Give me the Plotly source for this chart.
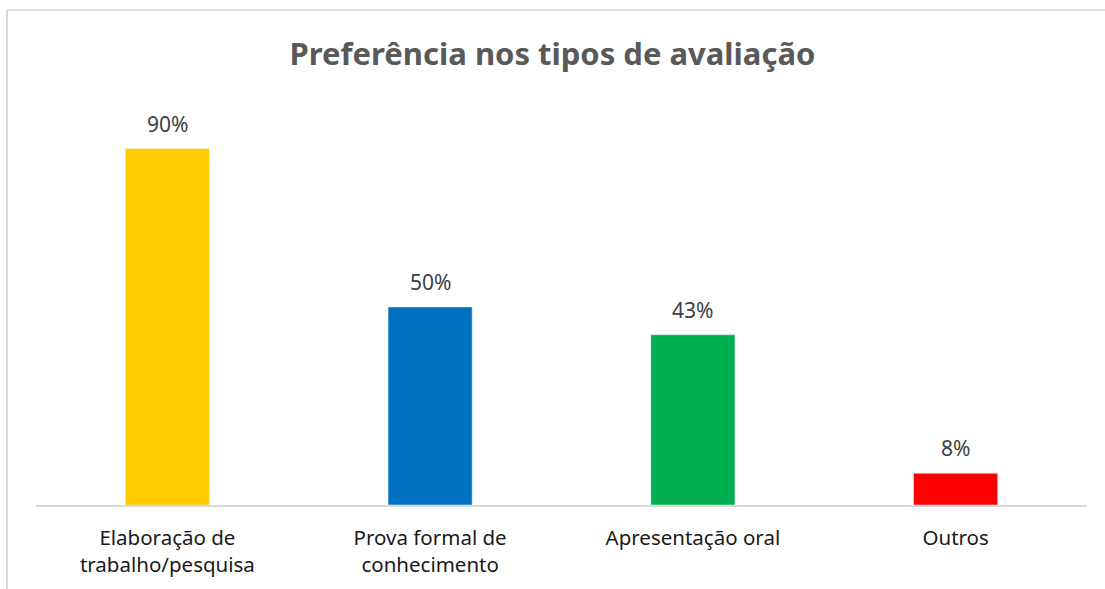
import plotly.graph_objects as go

categories = ["Elaboração de<br>trabalho/pesquisa", "Prova formal de<br>conhecimento", "Apresentação oral", "Outros"]
values = [90, 50, 43, 8]
labels = ["90%", "50%", "43%", "8%"]
colors = ["#FFCC00", "#0070C0", "#00B050", "#FF0000"]

W, H = 1105, 589
ml, mr, mt, mb = 36, 18, 109, 84
pw, ph = W - ml - mr, H - mt - mb

def px_x(x):
    return (x - ml) / pw

def px_y(y):
    return (H - mb - y) / ph

fig = go.Figure(go.Bar(
    x=categories, y=values, marker_color=colors, width=0.32,
    hoverinfo="skip",
))

for c, v, t in zip(categories, values, labels):
    fig.add_annotation(x=c, y=v, text=t, showarrow=False, yanchor="bottom", yshift=9,
                       font=dict(family="Noto Sans", size=21, color="#404040"))

fig.update_layout(
    width=W, height=H,
    margin=dict(l=ml, r=mr, t=mt, b=mb),
    paper_bgcolor="white", plot_bgcolor="white",
    title=dict(text="<b>Preferência nos tipos de avaliação</b>", x=0.5, xanchor="center",
               y=1 - 54 / H, yanchor="middle",
               font=dict(family="Noto Sans", size=31, color="#595959")),
    xaxis=dict(showline=True, linecolor="#d9d9d9", linewidth=1.5, ticks="",
               ticklabelstandoff=14,
               tickfont=dict(family="Noto Sans", size=20.5, color="#1a1a1a"), showgrid=False),
    yaxis=dict(range=[0, 100], visible=False, showgrid=False),
    showlegend=False,
    shapes=[
        dict(type="line", xref="paper", yref="paper", x0=px_x(7), x1=px_x(7), y0=px_y(10), y1=px_y(600),
             line=dict(color="#d9d9d9", width=2)),
        dict(type="line", xref="paper", yref="paper", x0=px_x(7), x1=px_x(1110), y0=px_y(10), y1=px_y(10),
             line=dict(color="#d9d9d9", width=1.5)),
    ],
)

fig.write_html("out.html", config={"displayModeBar": False},
               post_script="document.body.style.margin='0';document.body.style.overflow='hidden';")
